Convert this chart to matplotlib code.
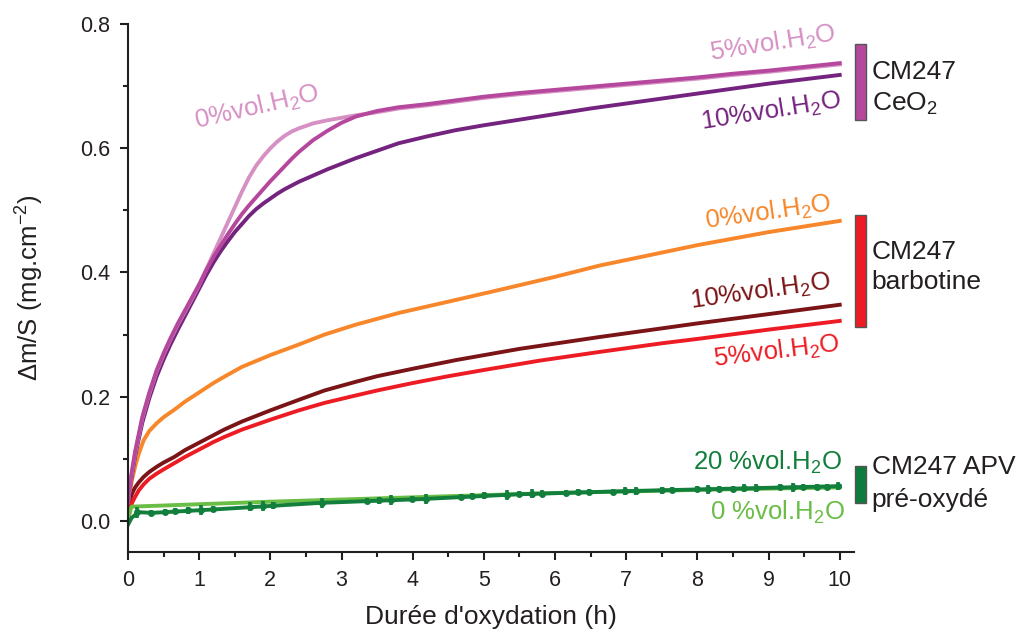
import numpy as np
import matplotlib
matplotlib.use("Agg")
import matplotlib.pyplot as plt
from matplotlib.patches import Rectangle

plt.rcParams['font.family'] = ['Liberation Sans', 'DejaVu Sans']
plt.rcParams['mathtext.fontset'] = 'custom'
plt.rcParams['mathtext.rm'] = 'Liberation Sans'
plt.rcParams['mathtext.it'] = 'Liberation Sans'

# CM247 CeO2
t_ce0 = [0, 0.05, 0.1, 0.2, 0.3, 0.4, 0.5, 0.6, 0.7, 0.8, 0.9, 1.0, 1.1, 1.2, 1.3, 1.4, 1.5, 1.6, 1.7,
         1.8, 1.9, 2.0, 2.1, 2.2, 2.3, 2.4, 2.6, 2.8, 3.0, 3.2, 3.5, 3.8, 4.2, 4.6, 5.0, 5.5, 6.0, 6.5,
         7.0, 7.5, 8.0, 8.5, 9.0, 9.5, 10]
v_ce0 = [0.03, 0.075, 0.11, 0.165, 0.205, 0.24, 0.268, 0.293, 0.316, 0.337, 0.358, 0.38, 0.405, 0.43,
         0.455, 0.48, 0.505, 0.53, 0.553, 0.572, 0.587, 0.600, 0.611, 0.620, 0.627, 0.632, 0.640, 0.645,
         0.649, 0.653, 0.658, 0.664, 0.669, 0.675, 0.681, 0.687, 0.692, 0.697, 0.702, 0.707, 0.712, 0.718,
         0.723, 0.729, 0.735]
t_ce5 = [0, 0.05, 0.1, 0.2, 0.3, 0.4, 0.5, 0.6, 0.7, 0.8, 0.9, 1.0, 1.1, 1.2, 1.3, 1.4, 1.5, 1.6, 1.7,
         1.8, 1.9, 2.0, 2.1, 2.2, 2.3, 2.4, 2.6, 2.8, 3.0, 3.2, 3.5, 3.8, 4.2, 4.6, 5.0, 5.5, 6.0, 6.5,
         7.0, 7.5, 8.0, 8.5, 9.0, 9.5, 10]
v_ce5 = [0.03, 0.077, 0.112, 0.167, 0.207, 0.242, 0.27, 0.295, 0.318, 0.339, 0.36, 0.381, 0.404, 0.425,
         0.443, 0.461, 0.478, 0.494, 0.508, 0.521, 0.534, 0.547, 0.559, 0.571, 0.583, 0.594, 0.613, 0.628,
         0.641, 0.651, 0.66, 0.666, 0.671, 0.677, 0.683, 0.689, 0.694, 0.699, 0.704, 0.709, 0.714, 0.72,
         0.725, 0.731, 0.737]
t_ce10 = [0, 0.05, 0.1, 0.2, 0.3, 0.4, 0.5, 0.6, 0.7, 0.8, 0.9, 1.0, 1.1, 1.2, 1.3, 1.4, 1.5, 1.6, 1.7,
          1.8, 1.9, 2.0, 2.1, 2.2, 2.3, 2.4, 2.6, 2.8, 3.0, 3.2, 3.5, 3.8, 4.2, 4.6, 5.0, 5.5, 6.0, 6.5,
          7.0, 7.5, 8.0, 8.5, 9.0, 9.5, 10]
v_ce10 = [0.03, 0.07, 0.105, 0.158, 0.198, 0.232, 0.26, 0.285, 0.308, 0.33, 0.352, 0.374, 0.396, 0.416,
          0.434, 0.45, 0.465, 0.478, 0.491, 0.502, 0.511, 0.519, 0.527, 0.534, 0.540, 0.546, 0.556, 0.566,
          0.575, 0.584, 0.596, 0.608, 0.619, 0.629, 0.637, 0.646, 0.655, 0.664, 0.672, 0.68, 0.688, 0.696,
          0.704, 0.711, 0.718]

# CM247 barbotine
t_b0 = [0, 0.03, 0.06, 0.1, 0.15, 0.22, 0.3, 0.4, 0.5, 0.65, 0.8, 1.0, 1.2, 1.35, 1.6, 2.0, 2.4, 2.76,
        3.2, 3.81, 4.5, 5.22, 6.0, 6.62, 7.5, 8.0, 9.0, 10]
v_b0 = [0.02, 0.05, 0.068, 0.088, 0.108, 0.13, 0.145, 0.157, 0.167, 0.179, 0.192, 0.207, 0.222, 0.232,
        0.248, 0.267, 0.284, 0.30, 0.316, 0.335, 0.353, 0.372, 0.393, 0.411, 0.432, 0.444, 0.465, 0.483]
t_b10 = [0, 0.03, 0.06, 0.1, 0.15, 0.22, 0.3, 0.4, 0.5, 0.65, 0.8, 1.0, 1.2, 1.35, 1.6, 2.0, 2.4, 2.76,
         3.2, 3.5, 4.0, 4.61, 5.5, 6.62, 7.5, 8.0, 9.0, 10]
v_b10 = [0.01, 0.035, 0.045, 0.054, 0.062, 0.071, 0.079, 0.087, 0.094, 0.103, 0.114, 0.126, 0.138,
         0.147, 0.16, 0.178, 0.195, 0.21, 0.224, 0.233, 0.245, 0.259, 0.277, 0.296, 0.31, 0.318, 0.333, 0.348]
t_b5 = [0, 0.03, 0.06, 0.1, 0.15, 0.22, 0.3, 0.4, 0.5, 0.65, 0.8, 1.0, 1.2, 1.35, 1.6, 2.0, 2.4, 2.76,
        3.2, 3.5, 4.0, 4.5, 5.0, 5.78, 6.62, 7.5, 8.0, 9.0, 10]
v_b5 = [0.0, 0.02, 0.03, 0.039, 0.049, 0.059, 0.068, 0.076, 0.083, 0.093, 0.103, 0.115, 0.127, 0.135,
        0.147, 0.163, 0.178, 0.19, 0.202, 0.21, 0.222, 0.233, 0.243, 0.258, 0.272, 0.286, 0.293, 0.308, 0.322]

# CM247 APV pre-oxyde
t_apv0 = [0, 0.05, 2, 4, 6, 8, 10]
v_apv0 = [0.005, 0.023, 0.031, 0.038, 0.045, 0.05, 0.054]
t_apv20 = [0, 0.05, 0.15, 0.34, 1.28, 2.69, 4.09, 5.5, 7, 8.5, 10]
v_apv20 = [-0.006, 0.005, 0.014, 0.013, 0.019, 0.029, 0.035, 0.043, 0.048, 0.052, 0.056]
t_err = [0.13, 0.32, 0.52, 0.66, 0.84, 1.03, 1.2, 1.72, 1.89, 2.04, 2.73, 3.36, 3.53, 3.70, 3.99, 4.19,
         4.68, 4.84, 5.0, 5.33, 5.5, 5.67, 5.82, 6.16, 6.32, 6.48, 6.81, 6.98, 7.14, 7.5, 7.65, 7.99,
         8.15, 8.31, 8.5, 8.66, 8.83, 9.16, 9.34, 9.48, 9.68, 9.82, 9.98]
v_err = [0.014, 0.013, 0.015, 0.016, 0.017, 0.018, 0.019, 0.023, 0.024, 0.025, 0.029, 0.032, 0.033, 0.034,
         0.035, 0.036, 0.039, 0.040, 0.041, 0.042, 0.043, 0.044, 0.044, 0.045, 0.046, 0.046, 0.047, 0.048,
         0.048, 0.049, 0.050, 0.051, 0.051, 0.052, 0.052, 0.053, 0.053, 0.054, 0.054, 0.055, 0.055, 0.055, 0.056]
e_err = [0.009, 0.005, 0.005, 0.005, 0.006, 0.008, 0.005, 0.007, 0.008, 0.005, 0.008, 0.005, 0.005, 0.008,
         0.005, 0.008, 0.005, 0.005, 0.005, 0.008, 0.005, 0.007, 0.005, 0.005, 0.005, 0.005, 0.005, 0.007,
         0.007, 0.005, 0.005, 0.005, 0.007, 0.005, 0.005, 0.007, 0.006, 0.005, 0.007, 0.005, 0.005, 0.005, 0.007]

c_pink, c_mag, c_purple = '#d690c3', '#b5489d', '#74237e'
c_orange, c_dred, c_red = '#f7872a', '#7a1416', '#ed1c24'
c_lgreen, c_dgreen = '#6abd45', '#127f3c'
c_text = '#231f20'

fig = plt.figure(figsize=(10.21, 6.32), dpi=100)
ax = fig.add_axes([0.1254, 0.1266, 0.711, 0.8354])

lw = 2.8
ax.plot(t_b0, v_b0, color=c_orange, lw=lw)
ax.plot(t_b10, v_b10, color=c_dred, lw=lw)
ax.plot(t_b5, v_b5, color=c_red, lw=lw)
ax.plot(t_ce10, v_ce10, color=c_purple, lw=lw)
ax.plot(t_ce0, v_ce0, color=c_pink, lw=lw)
ax.plot(t_ce5, v_ce5, color=c_mag, lw=lw)
ax.plot(t_apv0, v_apv0, color=c_lgreen, lw=lw)
ax.plot(t_apv20, v_apv20, color=c_dgreen, lw=lw)
ax.errorbar(t_err, v_err, yerr=e_err, fmt='o', ms=4, color=c_dgreen, elinewidth=2.6, capsize=0)

ax.set_xlim(0, 10.2)
ax.set_ylim(-0.05, 0.8)
ax.set_xticks(range(0, 11))
ax.set_yticks([0.0, 0.2, 0.4, 0.6, 0.8])
ax.set_yticklabels(['0.0', '0.2', '0.4', '0.6', '0.8'])
ax.set_xticks(np.arange(0.5, 10.5, 1), minor=True)
ax.set_yticks([0.1, 0.3, 0.5, 0.7], minor=True)
ax.tick_params(which='major', direction='out', length=6, width=1.5, labelsize=15.5, pad=7,
               color=c_text, labelcolor=c_text)
ax.tick_params(which='minor', direction='out', length=3.5, width=1.5, color=c_text)
for s in ['top', 'right']:
    ax.spines[s].set_visible(False)
for s in ['left', 'bottom']:
    ax.spines[s].set_linewidth(1.5)
    ax.spines[s].set_color(c_text)
ax.spines['left'].set_bounds(-0.05, 0.8)

ax.set_xlabel("Durée d'oxydation (h)", fontsize=19, labelpad=10, color=c_text)
ax.set_ylabel(r"$\Delta$m/S (mg.cm$^{-2}$)", fontsize=18.5, labelpad=24, color=c_text)

fs = 18.5
h2o = r"%vol.H$_2$O"
ax.text(1.82, 0.665, "0" + h2o, color=c_pink, fontsize=fs, rotation=13, ha='center', va='center')
ax.text(9.06, 0.768, "5" + h2o, color=c_pink, fontsize=fs, rotation=9, ha='center', va='center')
ax.text(9.04, 0.660, "10" + h2o, color=c_purple, fontsize=fs, rotation=9, ha='center', va='center')
ax.text(8.99, 0.497, "0" + h2o, color=c_orange, fontsize=fs, rotation=8, ha='center', va='center')
ax.text(8.89, 0.369, "10" + h2o, color=c_dred, fontsize=fs, rotation=8, ha='center', va='center')
ax.text(9.11, 0.272, "5" + h2o, color=c_red, fontsize=fs, rotation=7, ha='center', va='center')
ax.text(8.99, 0.095, "20 " + h2o, color=c_dgreen, fontsize=fs, ha='center', va='center')
ax.text(9.13, 0.014, "0 " + h2o, color=c_lgreen, fontsize=fs, ha='center', va='center')

# group markers on the right
groups = [(0.646, 0.768, c_mag, ["CM247", "CeO$_2$"], [0.723, 0.672]),
          (0.312, 0.493, c_red, ["CM247", "barbotine"], [0.433, 0.385]),
          (0.029, 0.0886, '#0f7b3c', ["CM247 APV", "pré-oxydé"], [0.087, 0.034])]
for lo, hi, col, lines, ys in groups:
    ax.add_patch(Rectangle((10.21, lo), 0.155, hi - lo, facecolor=col, edgecolor='#555555',
                           lw=1, clip_on=False))
    for txt, yy in zip(lines, ys):
        ax.text(10.45, yy, txt, fontsize=19, color=c_text, ha='left', va='center', clip_on=False)

fig.savefig('out.png', dpi=100)
